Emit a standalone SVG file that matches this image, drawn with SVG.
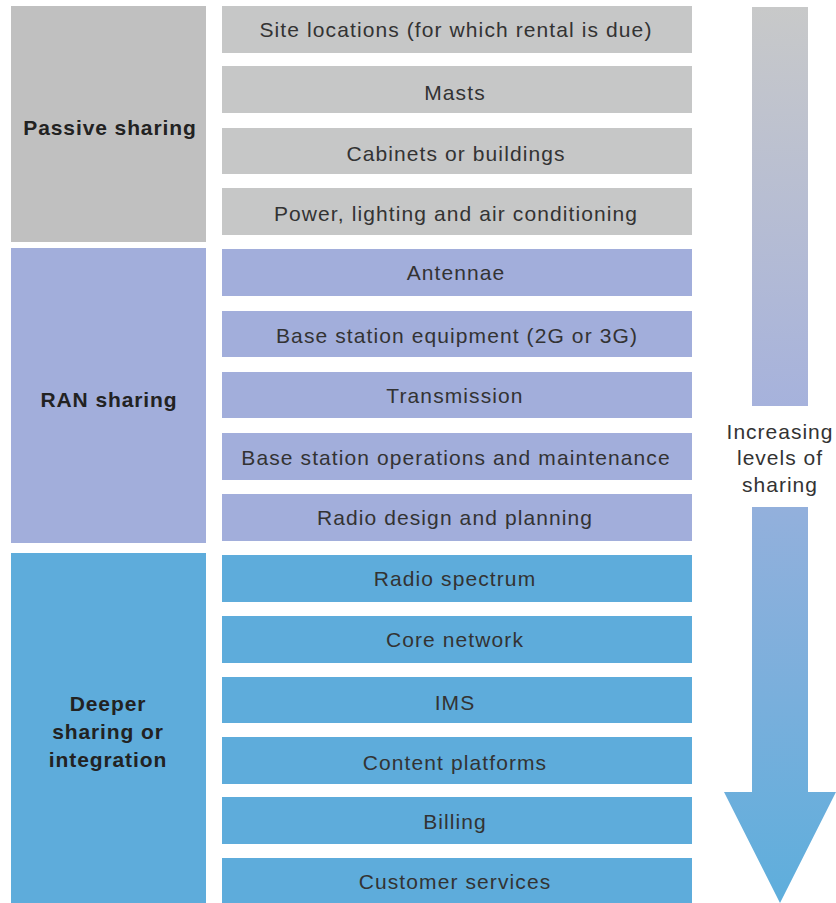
<svg xmlns="http://www.w3.org/2000/svg" width="836" height="903" viewBox="0 0 836 903">
<defs>
<linearGradient id="g1" x1="0" y1="0" x2="0" y2="1"><stop offset="0" stop-color="#c8c9c9"/><stop offset="1" stop-color="#a6b2dc"/></linearGradient>
<linearGradient id="g2" gradientUnits="userSpaceOnUse" x1="0" y1="507" x2="0" y2="903"><stop offset="0" stop-color="#93b0dc"/><stop offset="1" stop-color="#5eaedc"/></linearGradient>
</defs>
<style>
.p{fill:#c6c7c7}.pl{fill:#c0c0c0}.r{fill:#a2aedb}.d{fill:#5eacdb}
text{font-family:"Liberation Sans",Arial,sans-serif;fill:#333;text-anchor:middle}
.t{font-size:21px;letter-spacing:1.1px}
.b{font-size:21px;font-weight:bold;fill:#222;letter-spacing:0.9px}
.a{font-size:21px;letter-spacing:1px}
</style>
<rect width="836" height="903" fill="#fff"/>
<g id="passive"><rect class="pl" x="11" y="6" width="195" height="236"/><text class="b" x="110" y="135">Passive sharing</text></g>
<g id="ran"><rect class="r" x="11" y="248" width="195" height="295"/><text class="b" x="109" y="407">RAN sharing</text></g>
<g id="deeper"><rect class="d" x="11" y="553" width="195" height="350"/><text class="b" x="108" y="711">Deeper</text><text class="b" x="108" y="739">sharing or</text><text class="b" x="108" y="767">integration</text></g>
<g id="n1"><rect class="p" x="222" y="6" width="470" height="47"/><text class="t" x="456" y="37">Site locations (for which rental is due)</text></g>
<g id="n2"><rect class="p" x="222" y="66" width="470" height="47"/><text class="t" x="455" y="100">Masts</text></g>
<g id="n3"><rect class="p" x="222" y="128" width="470" height="46"/><text class="t" x="456" y="161">Cabinets or buildings</text></g>
<g id="n4"><rect class="p" x="222" y="188" width="470" height="47"/><text class="t" x="456" y="221">Power, lighting and air conditioning</text></g>
<g id="n5"><rect class="r" x="222" y="249" width="470" height="47"/><text class="t" x="456" y="280">Antennae</text></g>
<g id="n6"><rect class="r" x="222" y="311" width="470" height="46"/><text class="t" x="457" y="343">Base station equipment (2G or 3G)</text></g>
<g id="n7"><rect class="r" x="222" y="372" width="470" height="46"/><text class="t" x="455" y="403">Transmission</text></g>
<g id="n8"><rect class="r" x="222" y="433" width="470" height="47"/><text class="t" x="456" y="465">Base station operations and maintenance</text></g>
<g id="n9"><rect class="r" x="222" y="494" width="470" height="47"/><text class="t" x="455" y="525">Radio design and planning</text></g>
<g id="n10"><rect class="d" x="222" y="555" width="470" height="47"/><text class="t" x="455" y="586">Radio spectrum</text></g>
<g id="n11"><rect class="d" x="222" y="616" width="470" height="47"/><text class="t" x="455" y="647">Core network</text></g>
<g id="n12"><rect class="d" x="222" y="677" width="470" height="46"/><text class="t" x="455" y="710">IMS</text></g>
<g id="n13"><rect class="d" x="222" y="737" width="470" height="47"/><text class="t" x="455" y="770">Content platforms</text></g>
<g id="n14"><rect class="d" x="222" y="797" width="470" height="47"/><text class="t" x="455" y="829">Billing</text></g>
<g id="n15"><rect class="d" x="222" y="858" width="470" height="45"/><text class="t" x="455" y="889">Customer services</text></g>
<g id="arrow">
<rect x="752" y="7" width="56" height="399" fill="url(#g1)"/>
<polygon points="752,507 808,507 808,792 836,792 780,903 724,792 752,792" fill="url(#g2)"/>
<text class="a" x="780" y="439">Increasing</text>
<text class="a" x="780" y="465">levels of</text>
<text class="a" x="780" y="492">sharing</text>
</g>
</svg>
